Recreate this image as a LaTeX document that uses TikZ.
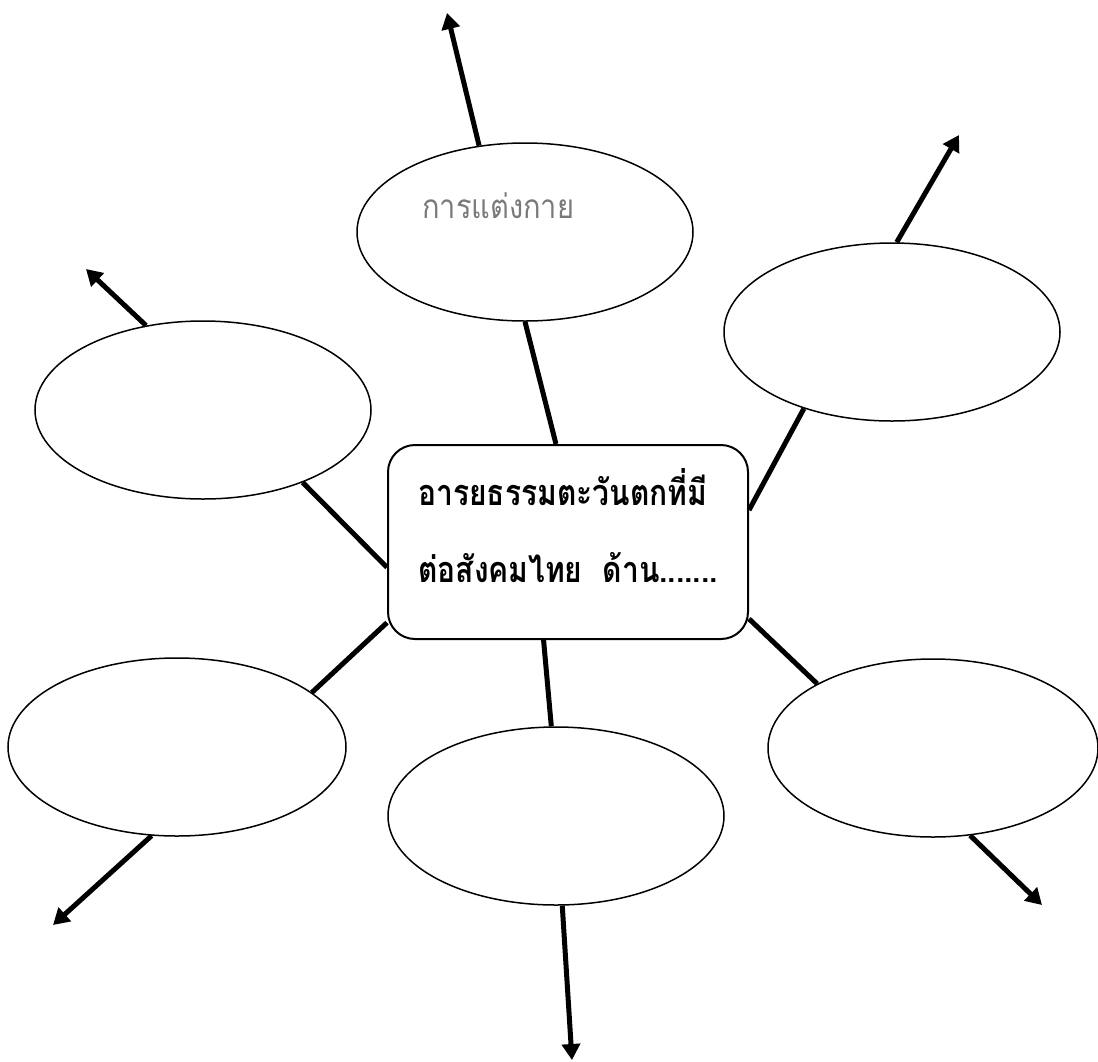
\documentclass[tikz,border=0pt]{standalone}
\usepackage{fontspec}
\newfontfamily\thai[Script=Thai]{Loma}
\usetikzlibrary{shapes.geometric,arrows.meta}
\definecolor{labelgray}{HTML}{7A7A7A}
\tikzset{
  bubble/.style={ellipse, draw, line width=1.5pt, fill=white, inner sep=0pt},
  centerbox/.style={rectangle, draw, line width=2pt, rounded corners=27pt, inner sep=0pt,
    minimum width=360pt, minimum height=194pt},
  link/.style={line width=5pt},
  outarrow/.style={line width=5pt, -{Triangle[width=18pt,length=16pt]}},
  maintext/.style={inner sep=0pt, font=\thai\bfseries\fontsize{30pt}{36pt}\selectfont},
  graytext/.style={inner sep=0pt, text=labelgray, font=\thai\fontsize{29pt}{34pt}\selectfont},
}
\begin{document}
\begin{tikzpicture}[x=1pt,y=-1pt]
\useasboundingbox (0,0) rectangle (1098,1061);
% nodes
\node[centerbox] (c) at (568,542) {};
\node[bubble, minimum width=336pt, minimum height=178pt] (e1) at (525,232) {};
\node[bubble, minimum width=336pt, minimum height=178pt] (e2) at (892,332) {};
\node[bubble, minimum width=336pt, minimum height=178pt] (e3) at (203,410) {};
\node[bubble, minimum width=338pt, minimum height=178pt] (e4) at (177,747) {};
\node[bubble, minimum width=336pt, minimum height=178pt] (e5) at (556,816) {};
\node[bubble, minimum width=330pt, minimum height=178pt] (e6) at (933,748) {};
% texts
\node[maintext, anchor=base west] (t1) at (418,505) {\scalebox{1}[1.2]{อารยธรรมตะวันตกที่มี}};
\node[maintext, anchor=base west] (t2) at (418,582) {\scalebox{1}[1.2]{ต่อสังคมไทย\ \ ด้าน.......}};
\node[graytext, anchor=base west] (g1) at (422,218) {\scalebox{1}[1.15]{การแต่งกาย}};
% arrow tips
\coordinate (a1) at (447,13);
\coordinate (a2) at (959,135);
\coordinate (a3) at (86,269);
\coordinate (a4) at (53,925);
\coordinate (a5) at (572,1060);
\coordinate (a6) at (1042,905);
% links to centre
\draw[link] (e1.270) -- (c.97.6);
\draw[link] (e2.221.1) -- (c.10.7);
\draw[link] (e3.-36) -- (c.188.2);
\draw[link] (e4.22.8) -- (c.204);
\draw[link] (e5.93.9) -- (c.256.1);
\draw[link] (e6.151.9) -- (c.-23.4);
% outward arrows
\draw[outarrow] (e1.118.9) -- (a1);
\draw[outarrow] (e2.87) -- (a2);
\draw[outarrow] (e3.124.6) -- (a3);
\draw[outarrow] (e4.254.3) -- (a4);
\draw[outarrow] (e5.-86.1) -- (a5);
\draw[outarrow] (e6.-67.4) -- (a6);
\end{tikzpicture}
\end{document}
